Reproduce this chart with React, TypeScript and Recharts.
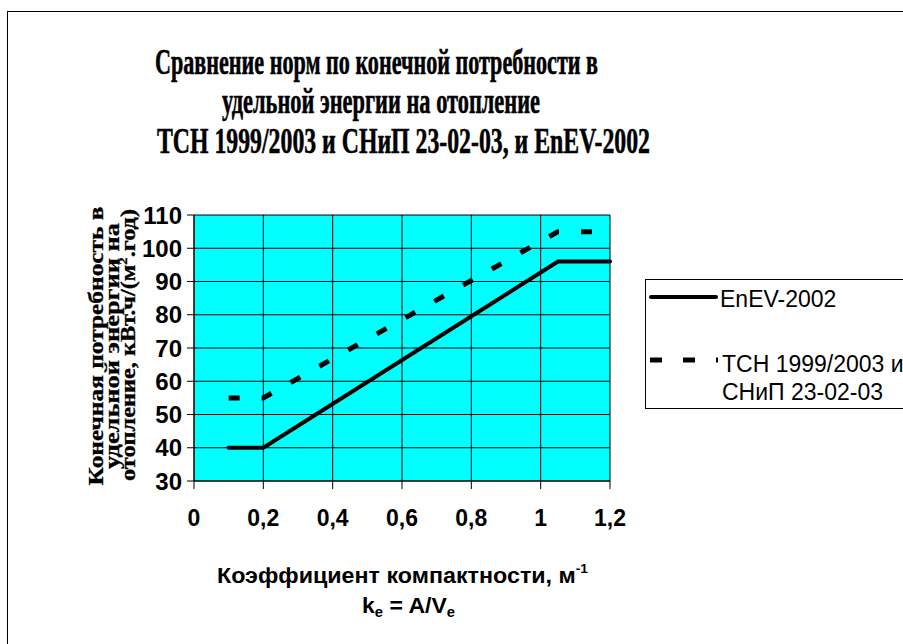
import { LineChart, Line, XAxis, YAxis, CartesianGrid, Customized } from 'recharts'

// Коэффициент компактности (точки излома кривых)
const compactness = [0.1, 0.2, 1.05, 1.2]
const enev2002 = [40, 40, 96, 96]
const tsnSnip = [55, 55, 105, 105]

const xTicks = [0, 0.2, 0.4, 0.6, 0.8, 1, 1.2]
const yTicks = [30, 40, 50, 60, 70, 80, 90, 100, 110]

const titleLines = [
  'Сравнение норм по конечной потребности в',
  'удельной энергии на отопление',
  'ТСН 1999/2003 и СНиП 23-02-03, и EnEV-2002',
]

const yLabelLines = ['Конечная потребность в', 'удельной энергии на', 'отопление, кВт.ч/(м', '2', '.год)']

const legendNames = ['EnEV-2002', 'ТСН 1999/2003 и', 'СНиП 23-02-03']

const data = compactness.map((k, i) => ({
  k,
  enev: enev2002[i],
  tsn: tsnSnip[i],
}))

const SANS = '"Liberation Sans", Arial, sans-serif'
const SERIF = '"Liberation Serif", "Times New Roman", serif'

const fmt = (v: number) => String(v).replace('.', ',')

function Decorations() {
  return (
    <g>
      {/* рамка области диаграммы */}
      <rect x={7.5} y={11.5} width={1000} height={1000} fill="none" stroke="#000" strokeWidth={1} />

      {/* заголовок */}
      <g fontFamily={SERIF} fontWeight="bold" fontSize={36} fill="#000" stroke="#000" strokeWidth={0.6}>
        <text x={155} y={74} textLength={443} lengthAdjust="spacingAndGlyphs">{titleLines[0]}</text>
        <text x={222} y={113} textLength={318} lengthAdjust="spacingAndGlyphs">{titleLines[1]}</text>
        <text x={157} y={153} textLength={493} lengthAdjust="spacingAndGlyphs">{titleLines[2]}</text>
      </g>

      {/* подпись оси Y */}
      <g fontFamily={SERIF} fontWeight="bold" fontSize={20} fill="#000" stroke="#000" strokeWidth={0.3}>
        <text transform="translate(103,346) rotate(-90)" textAnchor="middle" textLength={279} lengthAdjust="spacingAndGlyphs">
          {yLabelLines[0]}
        </text>
        <text transform="translate(119,346) rotate(-90)" textAnchor="middle" textLength={246} lengthAdjust="spacingAndGlyphs">
          {yLabelLines[1]}
        </text>
        <text transform="translate(135,345) rotate(-90)" textAnchor="middle" textLength={272} lengthAdjust="spacingAndGlyphs">
          {yLabelLines[2]}
          <tspan fontSize={12} dy={-8}>{yLabelLines[3]}</tspan>
          <tspan dy={8}>{yLabelLines[4]}</tspan>
        </text>
      </g>

      {/* подпись оси X */}
      <g fontFamily={SANS} fontWeight="bold" fontSize={22} fill="#000">
        <text x={217} y={583} textLength={371} lengthAdjust="spacingAndGlyphs">
          Коэффициент компактности, м
          <tspan fontSize={13} dy={-10}>-1</tspan>
        </text>
        <text x={362} y={613} textLength={93} lengthAdjust="spacingAndGlyphs">
          k<tspan fontSize={14} dy={4}>e</tspan>
          <tspan dy={-4}> = A/V</tspan>
          <tspan fontSize={14} dy={4}>e</tspan>
        </text>
      </g>

      {/* легенда */}
      <rect x={645.5} y={279.5} width={300} height={129} fill="#fff" stroke="#000" strokeWidth={1} />
      <line x1={651} y1={297} x2={716} y2={297} stroke="#000" strokeWidth={4} strokeLinecap="round" />
      <line x1={650} y1={360} x2={718} y2={360} stroke="#000" strokeWidth={5} strokeDasharray="12 21" />
      <g fontFamily={SANS} fontSize={23} fill="#000">
        <text x={720} y={307}>{legendNames[0]}</text>
        <text x={722} y={372}>{legendNames[1]}</text>
        <text x={722} y={400}>{legendNames[2]}</text>
      </g>
    </g>
  )
}

export default function App() {
  return (
    <div style={{ position: 'absolute', left: 0, top: 0, width: 903, height: 644, overflow: 'hidden', background: '#fff' }}>
      <LineChart width={903} height={644} data={data} margin={{ top: 215, right: 293, left: 0, bottom: 0 }}>
        <CartesianGrid stroke="#000" strokeWidth={1} fill="#00FFFF" fillOpacity={1} horizontalValues={yTicks} verticalValues={xTicks} />
        <XAxis
          dataKey="k"
          type="number"
          domain={[0, 1.2]}
          ticks={xTicks}
          tickFormatter={fmt}
          height={163}
          tickSize={8}
          tickMargin={21}
          stroke="#000"
          tick={{ fontSize: 23, fontWeight: 'bold', fill: '#000', fontFamily: SANS }}
        />
        <YAxis
          type="number"
          domain={[30, 110]}
          ticks={yTicks}
          width={194}
          tickSize={7}
          tickMargin={5}
          stroke="#000"
          tick={{ fontSize: 24, fontWeight: 'bold', fill: '#000', fontFamily: SANS }}
        />
        <Line
          dataKey="enev"
          name="EnEV-2002"
          type="linear"
          stroke="#000"
          strokeWidth={4}
          strokeLinecap="round"
          dot={false}
          activeDot={false}
          isAnimationActive={false}
        />
        <Line
          dataKey="tsn"
          name="ТСН 1999/2003 и СНиП 23-02-03"
          type="linear"
          stroke="#000"
          strokeWidth={5}
          strokeDasharray="11 22"
          dot={false}
          activeDot={false}
          isAnimationActive={false}
        />
        <Customized component={Decorations} />
      </LineChart>
    </div>
  )
}
